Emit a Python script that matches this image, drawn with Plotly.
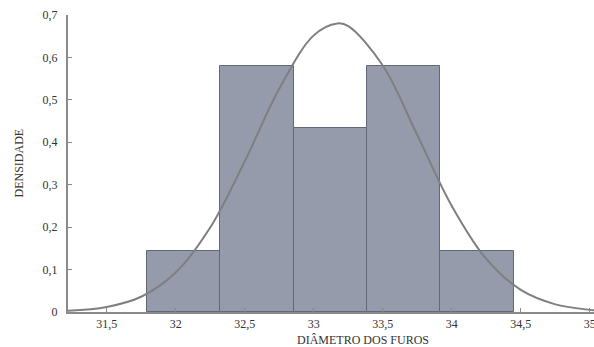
import plotly.graph_objects as go

# Histogram bins (edges) and densities
bin_edges = [31.79, 32.322, 32.854, 33.386, 33.918, 34.45]
densities = [0.143, 0.579, 0.433, 0.579, 0.143]

# Fitted normal density curve
curve_x = [31.22, 31.5, 31.75, 32.0, 32.25, 32.5, 32.75, 33.0, 33.17, 33.25,
           33.5, 33.75, 34.0, 34.25, 34.5, 34.75, 35.0, 35.03]
curve_y = [0.003, 0.012, 0.036, 0.093, 0.199, 0.355, 0.526, 0.652, 0.68, 0.674,
           0.581, 0.417, 0.250, 0.125, 0.052, 0.018, 0.005, 0.004]

x_ticks = [31.5, 32, 32.5, 33, 33.5, 34, 34.5, 35]
x_tick_labels = ["31,5", "32", "32,5", "33", "33,5", "34", "34,5", "35"]
y_ticks = [0, 0.1, 0.2, 0.3, 0.4, 0.5, 0.6, 0.7]
y_tick_labels = ["0", "0,1", "0,2", "0,3", "0,4", "0,5", "0,6", "0,7"]

centers = [(a + b) / 2 for a, b in zip(bin_edges[:-1], bin_edges[1:])]
widths = [b - a for a, b in zip(bin_edges[:-1], bin_edges[1:])]

font = dict(family="Liberation Serif, Times New Roman, serif", size=12, color="#333333")

fig = go.Figure()
fig.add_trace(go.Bar(
    x=centers, y=densities, width=widths,
    marker=dict(color="#959bab", line=dict(color="#62687a", width=1)),
    hoverinfo="skip",
))
fig.add_trace(go.Scatter(
    x=curve_x, y=curve_y, mode="lines",
    line=dict(color="#7f7f7f", width=2, shape="spline"),
    hoverinfo="skip",
))

fig.update_layout(
    width=594, height=347,
    margin=dict(l=68, r=0, t=15, b=35),
    paper_bgcolor="white", plot_bgcolor="white",
    showlegend=False,
    font=font,
    bargap=0,
    xaxis=dict(
        range=[31.22, 35.03], tickvals=x_ticks, ticktext=x_tick_labels,
        showgrid=False, zeroline=False,
        showline=True, linecolor="#8a8a8a", linewidth=2,
        ticks="inside", ticklen=4, tickcolor="#8a8a8a", tickwidth=1,
        automargin=False, ticklabeloverflow="allow",
    ),
    yaxis=dict(
        range=[0, 0.7], tickvals=y_ticks, ticktext=y_tick_labels,
        showgrid=False, zeroline=False,
        showline=True, linecolor="#8a8a8a", linewidth=2,
        ticks="inside", ticklen=4, tickcolor="#8a8a8a", tickwidth=1,
        automargin=False, ticklabelstandoff=6,
    ),
    annotations=[
        dict(text="DIÂMETRO DOS FUROS", xref="paper", yref="paper",
             x=(363 - 68) / 526, y=-(340 - 312) / 297, xanchor="center", yanchor="middle",
             showarrow=False, font=font),
        dict(text="DENSIDADE", xref="paper", yref="paper",
             x=-(68 - 18) / 526, y=0.5, xanchor="center", yanchor="middle",
             textangle=-90, showarrow=False, font=font),
    ],
)

fig.write_html("out.html")
